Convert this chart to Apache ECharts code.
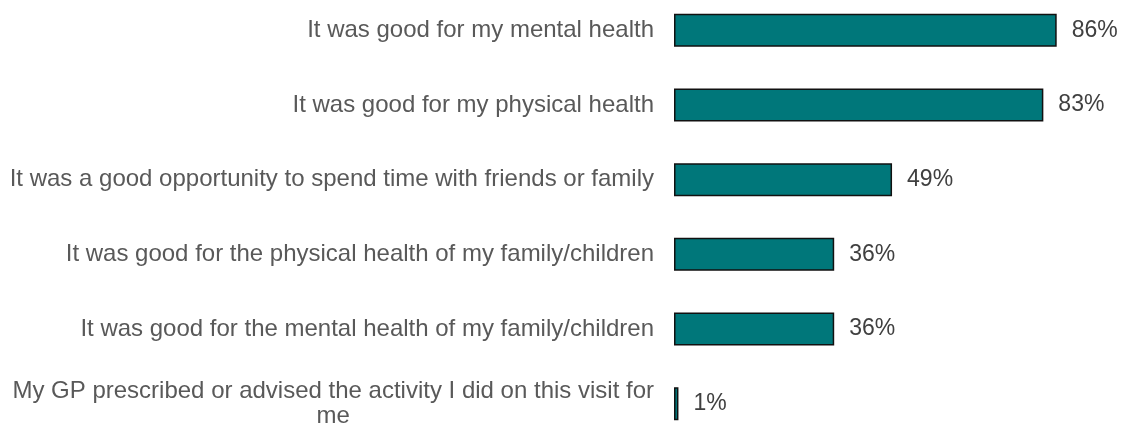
<!DOCTYPE html>
<html>
<head>
<meta charset="utf-8">
<script src="https://cdn.jsdelivr.net/npm/echarts@6/dist/echarts.min.js"></script>
<style>
  html, body { margin: 0; padding: 0; background: #fff; overflow: hidden; }
  /* plot area runs a little past the top and bottom edges in the original */
  #main { position: relative; top: -7px; width: 1122px; height: 448px; }
</style>
</head>
<body>
<div id="main"></div>
<script>
// reasons, top to bottom
var categories = [
  "It was good for my mental health",
  "It was good for my physical health",
  "It was a good opportunity to spend time with friends or family",
  "It was good for the physical health of my family/children",
  "It was good for the mental health of my family/children",
  "My GP prescribed or advised the activity I did on this visit for\nme"
];
var values = [86, 83, 49, 36, 36, 1];

var chart = echarts.init(document.getElementById("main"));

var option = {
  animation: false,
  grid: { left: 674, right: 3, top: 0, bottom: 0, containLabel: false },
  xAxis: {
    type: "value",
    min: 0,
    max: 100,
    show: false
  },
  yAxis: {
    type: "category",
    inverse: true,
    data: categories,
    axisLine: { show: false },
    axisTick: { show: false },
    axisLabel: {
      margin: 20,
      fontFamily: "Liberation Sans, Arial, sans-serif",
      fontSize: 24,
      color: "#595959",
      lineHeight: 25,
      // center the wrapped lines like the original
      formatter: function (val) {
        return val.split("\n").map(function (s) { return "{c|" + s + "}"; }).join("\n");
      },
      rich: {
        c: {
          align: "center",
          fontFamily: "Liberation Sans, Arial, sans-serif",
          fontSize: 24,
          color: "#595959",
          lineHeight: 25
        }
      }
    }
  },
  series: [
    {
      type: "bar",
      data: values,
      barWidth: 33,
      itemStyle: {
        color: "#00777A",
        borderColor: "#111",
        borderWidth: 1.5
      },
      label: {
        show: true,
        position: "right",
        distance: 15,
        formatter: "{c}%",
        fontFamily: "Liberation Sans, Arial, sans-serif",
        fontSize: 23,
        color: "#404040"
      }
    }
  ]
};

chart.setOption(option);
</script>
</body>
</html>
